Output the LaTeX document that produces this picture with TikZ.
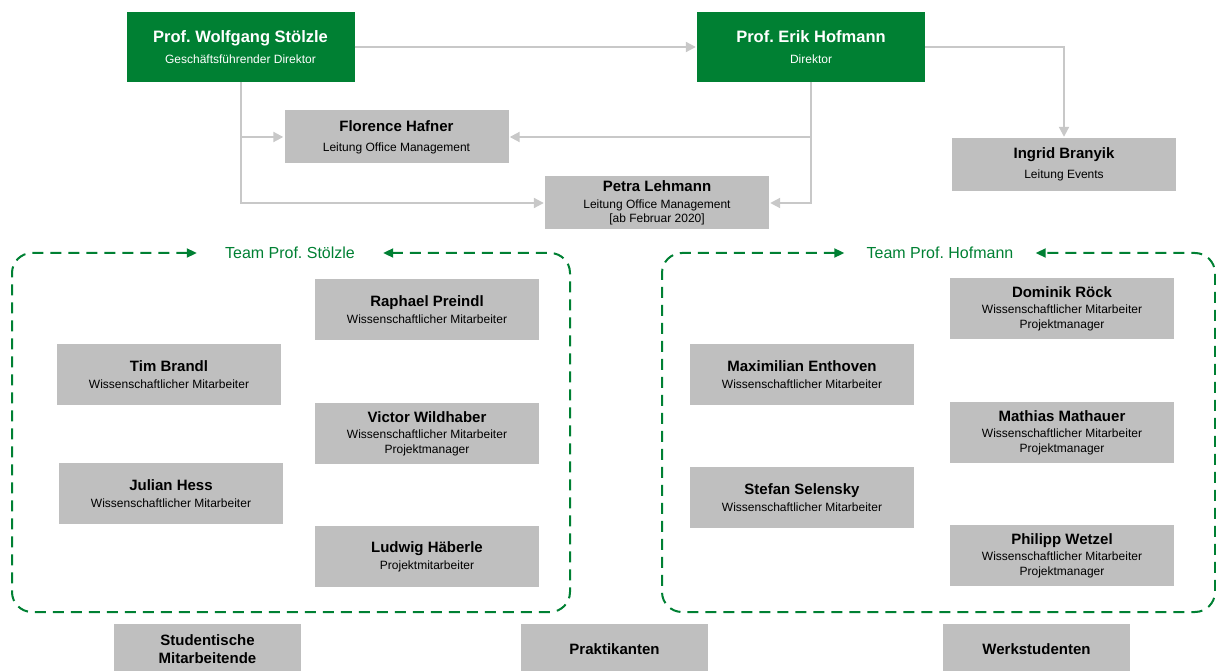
\documentclass[tikz,border=0pt]{standalone}
\usepackage{fontspec}
\setmainfont{Liberation Sans}
\frenchspacing
\usetikzlibrary{arrows.meta}
\definecolor{unigreen}{RGB}{0,128,51}
\definecolor{boxgray}{RGB}{191,191,191}
\definecolor{linegray}{RGB}{200,200,200}
\newcommand\pname[1]{{\fontsize{15}{17}\selectfont\bfseries #1}}
\newcommand\hname[1]{{\fontsize{16.5}{19}\selectfont\bfseries #1}}
\begin{document}
\begin{tikzpicture}[x=1pt,y=-1pt,
    conn/.style={draw=linegray,line width=2pt,-{Triangle[length=10pt,width=10pt]},shorten >=1pt},
    head/.style={fill=unigreen,text=white,minimum width=228pt,minimum height=70pt,inner sep=0pt,align=center,font=\fontsize{12}{14.5}\selectfont},
    member/.style={fill=boxgray,minimum width=224pt,minimum height=61pt,inner sep=0pt,align=center,font=\fontsize{12}{14.5}\selectfont},
    office/.style={member,minimum height=53pt},
    pool/.style={member,minimum width=187pt,minimum height=50pt,font=\fontsize{15}{17.5}\selectfont\bfseries},
    teamframe/.style={draw=unigreen,line width=2pt,dash pattern=on 11pt off 7pt,rounded corners=20pt,{Triangle[length=10pt,width=9pt]}-{Triangle[length=10pt,width=9pt]}},
    teamlabel/.style={text=unigreen,font=\fontsize{16}{19}\selectfont,inner sep=0pt,minimum height=18pt}]
  \useasboundingbox (0,0) rectangle (1216,671);
  % leadership
  \node[head] (wolf) at (240.5,47) {\hname{Prof. Wolfgang Stölzle}\\[6.2pt] Geschäftsführender Direktor};
  \node[head] (erik) at (811,47) {\hname{Prof. Erik Hofmann}\\[6.2pt] Direktor};
  \node[office] (florence) at (396.5,137) {\pname{Florence Hafner}\\[5.5pt] Leitung Office Management};
  \node[office] (petra) at (657,203) {\pname{Petra Lehmann}\\[1.8pt] Leitung Office Management\\ {[ab Februar 2020]}};
  \node[office] (ingrid) at (1064,164.5) {\pname{Ingrid Branyik}\\[5.5pt] Leitung Events};
  \draw[conn] (wolf) -- (erik);
  \draw[conn] (erik.east) -| (ingrid.north);
  \draw[conn] (wolf.south) |- (florence.west);
  \draw[conn] (wolf.south) |- (petra.west);
  \draw[conn] (erik.south) |- (florence.east);
  \draw[conn] (erik.south) |- (petra.east);
  % team Stoelzle
  \node[teamlabel,minimum width=186pt] (teamS) at (290,253) {Team Prof. Stölzle};
  \draw[teamframe] (teamS.west) -| (12,612) -| (570,253) -- (teamS.east);
  \node[member] (raphael) at (427,309.5) {\pname{Raphael Preindl}\\[2.2pt] Wissenschaftlicher Mitarbeiter};
  \node[member] (tim) at (169,374.5) {\pname{Tim Brandl}\\[2.2pt] Wissenschaftlicher Mitarbeiter};
  \node[member] (victor) at (427,433.5) {\pname{Victor Wildhaber}\\[2.2pt] Wissenschaftlicher Mitarbeiter\\ Projektmanager};
  \node[member] (julian) at (171,493.5) {\pname{Julian Hess}\\[2.2pt] Wissenschaftlicher Mitarbeiter};
  \node[member] (ludwig) at (427,556.5) {\pname{Ludwig Häberle}\\[2.2pt] Projektmitarbeiter};
  % team Hofmann
  \node[teamlabel,minimum width=191pt] (teamH) at (940,253) {Team Prof. Hofmann};
  \draw[teamframe] (teamH.west) -| (662,612) -| (1215,253) -- (teamH.east);
  \node[member] (dominik) at (1062,308.5) {\pname{Dominik Röck}\\[2.2pt] Wissenschaftlicher Mitarbeiter\\ Projektmanager};
  \node[member] (maximilian) at (802,374.5) {\pname{Maximilian Enthoven}\\[2.2pt] Wissenschaftlicher Mitarbeiter};
  \node[member] (mathias) at (1062,432.5) {\pname{Mathias Mathauer}\\[2.2pt] Wissenschaftlicher Mitarbeiter\\ Projektmanager};
  \node[member] (stefan) at (802,497.5) {\pname{Stefan Selensky}\\[2.2pt] Wissenschaftlicher Mitarbeiter};
  \node[member] (philipp) at (1062,555.5) {\pname{Philipp Wetzel}\\[2.2pt] Wissenschaftlicher Mitarbeiter\\ Projektmanager};
  % student staff
  \node[pool] (studis) at (207.5,649) {Studentische\\ Mitarbeitende};
  \node[pool] (praktikanten) at (614.5,649) {Praktikanten};
  \node[pool] (werkstudenten) at (1036.5,649) {Werkstudenten};
\end{tikzpicture}
\end{document}
